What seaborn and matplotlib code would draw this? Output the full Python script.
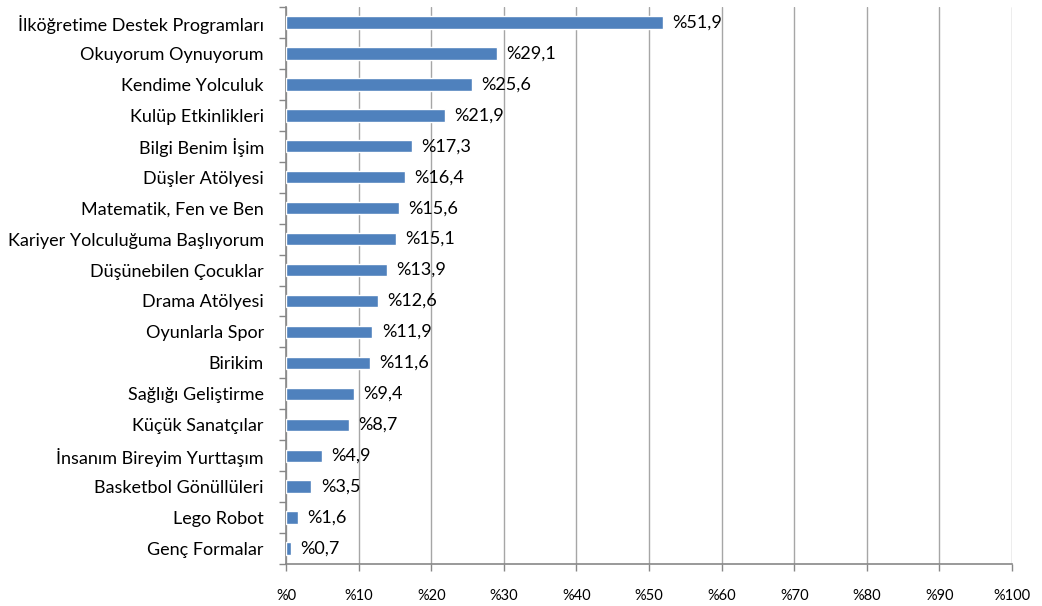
import matplotlib
matplotlib.use("Agg")
import matplotlib.pyplot as plt
import seaborn as sns
import numpy as np
import pandas as pd

categories = ["İlköğretime Destek Programları", "Okuyorum Oynuyorum", "Kendime Yolculuk",
              "Kulüp Etkinlikleri", "Bilgi Benim İşim", "Düşler Atölyesi",
              "Matematik, Fen ve Ben", "Kariyer Yolculuğuma Başlıyorum", "Düşünebilen Çocuklar",
              "Drama Atölyesi", "Oyunlarla Spor", "Birikim", "Sağlığı Geliştirme",
              "Küçük Sanatçılar", "İnsanım Bireyim Yurttaşım", "Basketbol Gönüllüleri",
              "Lego Robot", "Genç Formalar"]
values = [51.9, 29.1, 25.6, 21.9, 17.3, 16.4, 15.6, 15.1, 13.9, 12.6, 11.9, 11.6,
          9.4, 8.7, 4.9, 3.5, 1.6, 0.7]
x_ticks = list(range(0, 101, 10))
x_tick_labels = [f"%{t}" for t in x_ticks]

sns.set_theme(style="white")
plt.rcParams['font.family'] = ['Lato', 'DejaVu Sans']

df = pd.DataFrame({"cat": categories, "val": values})
fig, ax = plt.subplots(figsize=(10.42, 6.06), dpi=100)
fig.subplots_adjust(left=0.2745, right=0.9712, top=0.9884, bottom=0.0693)

sns.barplot(data=df, x="val", y="cat", orient="h", color="#4F81BD", width=0.4,
            saturation=1, ax=ax, zorder=3)

ax.set_xlim(0, 100)
ax.set_ylim(len(categories) - 0.5, -0.5)
ax.set_xticks(x_ticks)
ax.set_xticklabels(x_tick_labels, fontsize=10.5)
ax.set_xlabel("")
ax.set_ylabel("")
ax.tick_params(axis='y', labelsize=13, length=0, pad=16)
ax.tick_params(axis='x', length=5, width=1, color="#878787", pad=13, direction="out", bottom=True)
ax.set_yticks(np.arange(-0.5, len(categories), 1), minor=True)
ax.tick_params(axis='y', which='minor', length=5, width=1, color="#878787", direction="out", left=True)
for lab in ax.get_yticklabels():
    lab.set_color("black")
for lab in ax.get_xticklabels():
    lab.set_color("black")

ax.grid(axis='x', color="#A6A6A6", linewidth=1, zorder=0)
ax.set_axisbelow(True)
for s in ["top", "right"]:
    ax.spines[s].set_visible(False)
for s in ["left", "bottom"]:
    ax.spines[s].set_color("#878787")
    ax.spines[s].set_linewidth(1.2)

for i, v in enumerate(values):
    ax.text(v + 1.3, i, f"%{v:.1f}".replace('.', ','), va="center", ha="left", fontsize=13,
            color="black", zorder=4)

fig.savefig("out.png", dpi=100)
